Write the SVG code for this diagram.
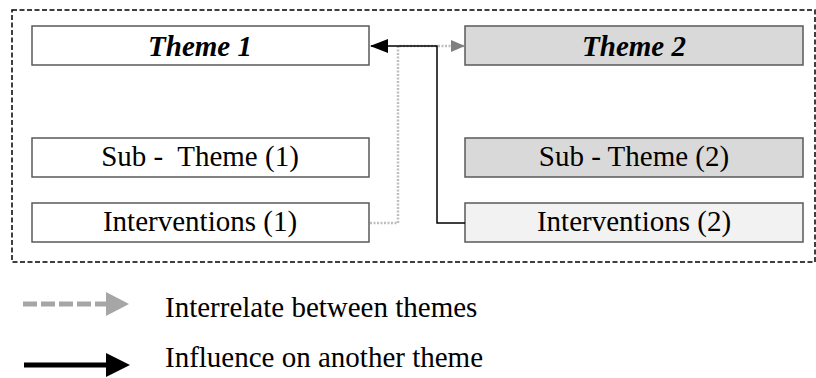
<svg xmlns="http://www.w3.org/2000/svg" width="816" height="378" viewBox="0 0 816 378">
<style>
.box{stroke:#595959;stroke-width:1.5}
.t{font-family:"Liberation Serif","Times New Roman",serif;font-size:29px;fill:#000;text-anchor:middle}
.h{font-weight:bold;font-style:italic}
.l{font-family:"Liberation Serif","Times New Roman",serif;font-size:29px;fill:#000}
</style>
<defs>
<marker id="ab" markerWidth="18" markerHeight="14" refX="17" refY="7" orient="auto" markerUnits="userSpaceOnUse"><path d="M0,0 L18,7 L0,14 Z" fill="#000"/></marker>
<marker id="ag" markerWidth="14" markerHeight="12" refX="13" refY="6" orient="auto" markerUnits="userSpaceOnUse"><path d="M0,0 L14,6 L0,12 Z" fill="#808080"/></marker>
</defs>
<rect x="12" y="10" width="803" height="252" fill="none" stroke="#000" stroke-width="1.5" stroke-dasharray="5,2.5"/>
<g id="theme1"><rect class="box" x="32" y="26" width="337" height="39" fill="#fff"/><text class="t h" x="200" y="56">Theme 1</text></g>
<g id="theme2"><rect class="box" x="465" y="26" width="338" height="39" fill="#d9d9d9"/><text class="t h" x="634" y="56">Theme 2</text></g>
<g id="sub1"><rect class="box" x="32" y="138" width="337" height="39" fill="#fff"/><text class="t" x="200" y="166" xml:space="preserve">Sub -  Theme (1)</text></g>
<g id="sub2"><rect class="box" x="465" y="138" width="338" height="39" fill="#d9d9d9"/><text class="t" x="634" y="166">Sub - Theme (2)</text></g>
<g id="int1"><rect class="box" x="32" y="203" width="337" height="39" fill="#fff"/><text class="t" x="200" y="231">Interventions (1)</text></g>
<g id="int2"><rect class="box" x="465" y="203" width="338" height="39" fill="#f2f2f2"/><text class="t" x="634" y="231">Interventions (2)</text></g>
<g id="connectors" fill="none">
<path d="M370,223 H398 V46 H437 H464" stroke="#bfbfbf" stroke-width="2.5" stroke-dasharray="2,1.5" marker-end="url(#ag)"/>
<path d="M465,223 H437 V46 H371" stroke="#000" stroke-width="1.5" marker-end="url(#ab)"/>
</g>
<g id="legend">
<path d="M23,304 H106" stroke="#a6a6a6" stroke-width="5" stroke-dasharray="14,4"/>
<path d="M106,292 L129,304 L106,316 Z" fill="#a6a6a6"/>
<text class="l" x="165" y="317">Interrelate between themes</text>
<path d="M24,365 H108" stroke="#000" stroke-width="5"/>
<path d="M106,353 L130,365 L106,377 Z" fill="#000"/>
<text class="l" x="165" y="367">Influence on another theme</text>
</g>
</svg>
